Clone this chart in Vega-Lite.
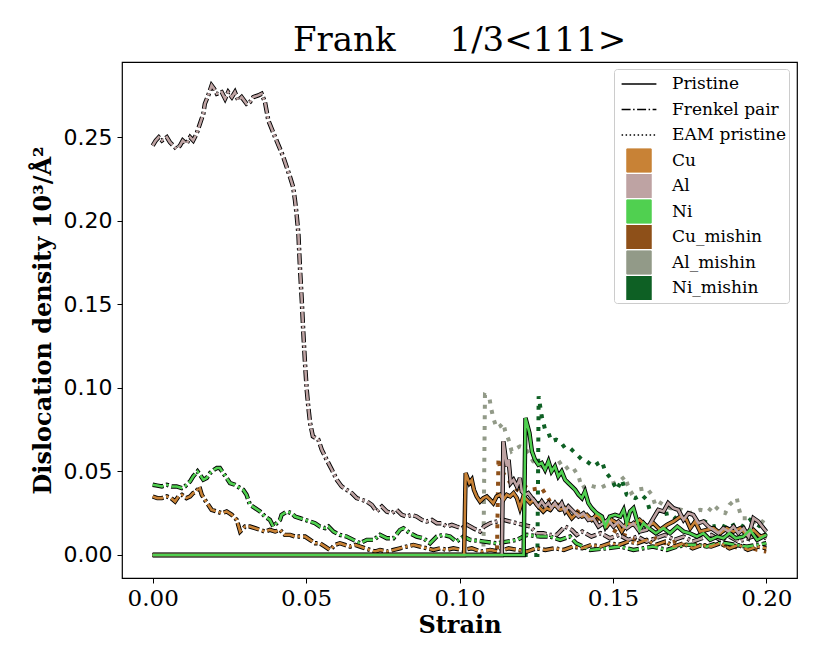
{
  "$schema": "https://vega.github.io/schema/vega-lite/v6.json",
  "width": 675,
  "height": 516,
  "autosize": {"type": "none"},
  "padding": {"left": 122, "top": 62, "right": 33, "bottom": 86},
  "background": "white",
  "title": {"text": "Frank\u00a0\u00a0\u00a0\u00a0\u00a01/3<111>", "font": "DejaVu Serif", "fontSize": 34, "fontWeight": "normal", "color": "black", "offset": 10, "baseline": "alphabetic", "anchor": "middle", "dy": 33},
  "config": {
    "view": {"stroke": "black", "strokeWidth": 1.2},
    "axis": {"grid": false, "domain": false, "tickColor": "black", "tickSize": 5, "tickWidth": 1, "labelColor": "black", "titleColor": "black", "titleFont": "DejaVu Serif", "titleFontWeight": "bold", "labelFlush": false}
  },
  "data": {"values": [
    {"x":0.000,"y":0.245,"m":"Al","t":"F"},{"x":0.001,"y":0.248,"m":"Al","t":"F"},{"x":0.002,"y":0.250,"m":"Al","t":"F"},{"x":0.003,"y":0.248,"m":"Al","t":"F"},{"x":0.0046,"y":0.250,"m":"Al","t":"F"},{"x":0.0056,"y":0.247,"m":"Al","t":"F"},{"x":0.0067,"y":0.245,"m":"Al","t":"F"},{"x":0.0078,"y":0.243,"m":"Al","t":"F"},{"x":0.0089,"y":0.245,"m":"Al","t":"F"},{"x":0.0098,"y":0.248,"m":"Al","t":"F"},{"x":0.011,"y":0.246,"m":"Al","t":"F"},{"x":0.0122,"y":0.250,"m":"Al","t":"F"},{"x":0.0132,"y":0.248,"m":"Al","t":"F"},{"x":0.0143,"y":0.252,"m":"Al","t":"F"},{"x":0.0154,"y":0.258,"m":"Al","t":"F"},{"x":0.0165,"y":0.264,"m":"Al","t":"F"},{"x":0.017,"y":0.270,"m":"Al","t":"F"},{"x":0.0181,"y":0.275,"m":"Al","t":"F"},{"x":0.0192,"y":0.281,"m":"Al","t":"F"},{"x":0.0200,"y":0.279,"m":"Al","t":"F"},{"x":0.0209,"y":0.276,"m":"Al","t":"F"},{"x":0.0225,"y":0.277,"m":"Al","t":"F"},{"x":0.0236,"y":0.273,"m":"Al","t":"F"},{"x":0.0246,"y":0.277,"m":"Al","t":"F"},{"x":0.0258,"y":0.274,"m":"Al","t":"F"},{"x":0.0268,"y":0.277,"m":"Al","t":"F"},{"x":0.0279,"y":0.272,"m":"Al","t":"F"},{"x":0.029,"y":0.274,"m":"Al","t":"F"},{"x":0.0306,"y":0.270,"m":"Al","t":"F"},{"x":0.0317,"y":0.271,"m":"Al","t":"F"},{"x":0.0328,"y":0.274,"m":"Al","t":"F"},{"x":0.0344,"y":0.275,"m":"Al","t":"F"},{"x":0.0355,"y":0.276,"m":"Al","t":"F"},{"x":0.0366,"y":0.271,"m":"Al","t":"F"},{"x":0.0377,"y":0.260,"m":"Al","t":"F"},{"x":0.0388,"y":0.255,"m":"Al","t":"F"},{"x":0.0399,"y":0.250,"m":"Al","t":"F"},{"x":0.0415,"y":0.243,"m":"Al","t":"F"},{"x":0.0426,"y":0.238,"m":"Al","t":"F"},{"x":0.0437,"y":0.232,"m":"Al","t":"F"},{"x":0.0448,"y":0.226,"m":"Al","t":"F"},{"x":0.0458,"y":0.220,"m":"Al","t":"F"},{"x":0.0464,"y":0.212,"m":"Al","t":"F"},{"x":0.0469,"y":0.204,"m":"Al","t":"F"},{"x":0.0475,"y":0.192,"m":"Al","t":"F"},{"x":0.048,"y":0.172,"m":"Al","t":"F"},{"x":0.0486,"y":0.152,"m":"Al","t":"F"},{"x":0.0491,"y":0.133,"m":"Al","t":"F"},{"x":0.0497,"y":0.113,"m":"Al","t":"F"},{"x":0.0502,"y":0.099,"m":"Al","t":"F"},{"x":0.0507,"y":0.089,"m":"Al","t":"F"},{"x":0.0513,"y":0.079,"m":"Al","t":"F"},{"x":0.0522,"y":0.071,"m":"Al","t":"F"},{"x":0.054,"y":0.069,"m":"Al","t":"F"},{"x":0.0551,"y":0.063,"m":"Al","t":"F"},{"x":0.0567,"y":0.057,"m":"Al","t":"F"},{"x":0.0584,"y":0.051,"m":"Al","t":"F"},{"x":0.060,"y":0.045,"m":"Al","t":"F"},{"x":0.0616,"y":0.041,"m":"Al","t":"F"},{"x":0.0632,"y":0.039,"m":"Al","t":"F"},{"x":0.0649,"y":0.037,"m":"Al","t":"F"},{"x":0.0665,"y":0.034,"m":"Al","t":"F"},{"x":0.0681,"y":0.033,"m":"Al","t":"F"},{"x":0.0698,"y":0.032,"m":"Al","t":"F"},{"x":0.0714,"y":0.030,"m":"Al","t":"F"},{"x":0.073,"y":0.026,"m":"Al","t":"F"},{"x":0.0747,"y":0.029,"m":"Al","t":"F"},{"x":0.0763,"y":0.026,"m":"Al","t":"F"},{"x":0.0779,"y":0.025,"m":"Al","t":"F"},{"x":0.0795,"y":0.027,"m":"Al","t":"F"},{"x":0.0812,"y":0.024,"m":"Al","t":"F"},{"x":0.0828,"y":0.023,"m":"Al","t":"F"},{"x":0.0844,"y":0.024,"m":"Al","t":"F"},{"x":0.086,"y":0.023,"m":"Al","t":"F"},{"x":0.0877,"y":0.021,"m":"Al","t":"F"},{"x":0.0893,"y":0.020,"m":"Al","t":"F"},{"x":0.091,"y":0.021,"m":"Al","t":"F"},{"x":0.0926,"y":0.019,"m":"Al","t":"F"},{"x":0.0942,"y":0.019,"m":"Al","t":"F"},{"x":0.0958,"y":0.017,"m":"Al","t":"F"},{"x":0.0975,"y":0.018,"m":"Al","t":"F"},{"x":0.099,"y":0.017,"m":"Al","t":"F"},{"x":0.1007,"y":0.016,"m":"Al","t":"F"},{"x":0.1025,"y":0.018,"m":"Al","t":"F"},{"x":0.1045,"y":0.016,"m":"Al","t":"F"},{"x":0.1067,"y":0.014,"m":"Al","t":"F"},{"x":0.108,"y":0.017,"m":"Al","t":"F"},{"x":0.110,"y":0.019,"m":"Al","t":"F"},{"x":0.1121,"y":0.020,"m":"Al","t":"F"},{"x":0.1143,"y":0.021,"m":"Al","t":"F"},{"x":0.1165,"y":0.020,"m":"Al","t":"F"},{"x":0.1187,"y":0.019,"m":"Al","t":"F"},{"x":0.1208,"y":0.018,"m":"Al","t":"F"},{"x":0.123,"y":0.017,"m":"Al","t":"F"},{"x":0.1252,"y":0.013,"m":"Al","t":"F"},{"x":0.1273,"y":0.013,"m":"Al","t":"F"},{"x":0.1295,"y":0.012,"m":"Al","t":"F"},{"x":0.1317,"y":0.012,"m":"Al","t":"F"},{"x":0.1344,"y":0.017,"m":"Al","t":"F"},{"x":0.1366,"y":0.015,"m":"Al","t":"F"},{"x":0.1382,"y":0.012,"m":"Al","t":"F"},{"x":0.140,"y":0.014,"m":"Al","t":"F"},{"x":0.143,"y":0.011,"m":"Al","t":"F"},{"x":0.146,"y":0.013,"m":"Al","t":"F"},{"x":0.149,"y":0.010,"m":"Al","t":"F"},{"x":0.152,"y":0.012,"m":"Al","t":"F"},{"x":0.155,"y":0.009,"m":"Al","t":"F"},{"x":0.158,"y":0.011,"m":"Al","t":"F"},{"x":0.161,"y":0.008,"m":"Al","t":"F"},{"x":0.164,"y":0.010,"m":"Al","t":"F"},{"x":0.167,"y":0.012,"m":"Al","t":"F"},{"x":0.170,"y":0.009,"m":"Al","t":"F"},{"x":0.173,"y":0.011,"m":"Al","t":"F"},{"x":0.176,"y":0.008,"m":"Al","t":"F"},{"x":0.179,"y":0.010,"m":"Al","t":"F"},{"x":0.182,"y":0.012,"m":"Al","t":"F"},{"x":0.185,"y":0.009,"m":"Al","t":"F"},{"x":0.188,"y":0.011,"m":"Al","t":"F"},{"x":0.191,"y":0.008,"m":"Al","t":"F"},{"x":0.194,"y":0.010,"m":"Al","t":"F"},{"x":0.197,"y":0.012,"m":"Al","t":"F"},{"x":0.200,"y":0.010,"m":"Al","t":"F"},

    {"x":0.000,"y":0.042,"m":"Ni","t":"F"},{"x":0.0015,"y":0.0415,"m":"Ni","t":"F"},{"x":0.003,"y":0.041,"m":"Ni","t":"F"},{"x":0.0046,"y":0.042,"m":"Ni","t":"F"},{"x":0.0062,"y":0.041,"m":"Ni","t":"F"},{"x":0.0078,"y":0.041,"m":"Ni","t":"F"},{"x":0.0095,"y":0.040,"m":"Ni","t":"F"},{"x":0.0105,"y":0.041,"m":"Ni","t":"F"},{"x":0.0122,"y":0.044,"m":"Ni","t":"F"},{"x":0.0132,"y":0.047,"m":"Ni","t":"F"},{"x":0.0146,"y":0.050,"m":"Ni","t":"F"},{"x":0.0154,"y":0.048,"m":"Ni","t":"F"},{"x":0.0165,"y":0.045,"m":"Ni","t":"F"},{"x":0.0176,"y":0.046,"m":"Ni","t":"F"},{"x":0.0187,"y":0.049,"m":"Ni","t":"F"},{"x":0.020,"y":0.051,"m":"Ni","t":"F"},{"x":0.0209,"y":0.052,"m":"Ni","t":"F"},{"x":0.0219,"y":0.052,"m":"Ni","t":"F"},{"x":0.023,"y":0.049,"m":"Ni","t":"F"},{"x":0.0241,"y":0.046,"m":"Ni","t":"F"},{"x":0.0252,"y":0.043,"m":"Ni","t":"F"},{"x":0.0268,"y":0.042,"m":"Ni","t":"F"},{"x":0.0285,"y":0.040,"m":"Ni","t":"F"},{"x":0.0295,"y":0.039,"m":"Ni","t":"F"},{"x":0.0306,"y":0.036,"m":"Ni","t":"F"},{"x":0.0317,"y":0.030,"m":"Ni","t":"F"},{"x":0.0334,"y":0.028,"m":"Ni","t":"F"},{"x":0.035,"y":0.026,"m":"Ni","t":"F"},{"x":0.0366,"y":0.023,"m":"Ni","t":"F"},{"x":0.0382,"y":0.021,"m":"Ni","t":"F"},{"x":0.0393,"y":0.017,"m":"Ni","t":"F"},{"x":0.0404,"y":0.019,"m":"Ni","t":"F"},{"x":0.0415,"y":0.021,"m":"Ni","t":"F"},{"x":0.042,"y":0.024,"m":"Ni","t":"F"},{"x":0.0437,"y":0.026,"m":"Ni","t":"F"},{"x":0.0453,"y":0.025,"m":"Ni","t":"F"},{"x":0.0464,"y":0.023,"m":"Ni","t":"F"},{"x":0.048,"y":0.022,"m":"Ni","t":"F"},{"x":0.0497,"y":0.021,"m":"Ni","t":"F"},{"x":0.0513,"y":0.020,"m":"Ni","t":"F"},{"x":0.0529,"y":0.019,"m":"Ni","t":"F"},{"x":0.0545,"y":0.017,"m":"Ni","t":"F"},{"x":0.0562,"y":0.016,"m":"Ni","t":"F"},{"x":0.0573,"y":0.017,"m":"Ni","t":"F"},{"x":0.0589,"y":0.014,"m":"Ni","t":"F"},{"x":0.061,"y":0.012,"m":"Ni","t":"F"},{"x":0.0632,"y":0.011,"m":"Ni","t":"F"},{"x":0.0654,"y":0.009,"m":"Ni","t":"F"},{"x":0.0676,"y":0.007,"m":"Ni","t":"F"},{"x":0.0698,"y":0.009,"m":"Ni","t":"F"},{"x":0.072,"y":0.009,"m":"Ni","t":"F"},{"x":0.0741,"y":0.012,"m":"Ni","t":"F"},{"x":0.0763,"y":0.010,"m":"Ni","t":"F"},{"x":0.0785,"y":0.010,"m":"Ni","t":"F"},{"x":0.0806,"y":0.015,"m":"Ni","t":"F"},{"x":0.0817,"y":0.016,"m":"Ni","t":"F"},{"x":0.0839,"y":0.013,"m":"Ni","t":"F"},{"x":0.086,"y":0.011,"m":"Ni","t":"F"},{"x":0.0882,"y":0.010,"m":"Ni","t":"F"},{"x":0.0904,"y":0.007,"m":"Ni","t":"F"},{"x":0.0926,"y":0.011,"m":"Ni","t":"F"},{"x":0.0947,"y":0.012,"m":"Ni","t":"F"},{"x":0.0969,"y":0.011,"m":"Ni","t":"F"},{"x":0.099,"y":0.008,"m":"Ni","t":"F"},{"x":0.1013,"y":0.011,"m":"Ni","t":"F"},{"x":0.1035,"y":0.009,"m":"Ni","t":"F"},{"x":0.108,"y":0.008,"m":"Ni","t":"F"},{"x":0.112,"y":0.007,"m":"Ni","t":"F"},{"x":0.1155,"y":0.008,"m":"Ni","t":"F"},{"x":0.1187,"y":0.009,"m":"Ni","t":"F"},{"x":0.122,"y":0.012,"m":"Ni","t":"F"},{"x":0.1263,"y":0.011,"m":"Ni","t":"F"},{"x":0.1295,"y":0.011,"m":"Ni","t":"F"},{"x":0.1328,"y":0.009,"m":"Ni","t":"F"},{"x":0.136,"y":0.011,"m":"Ni","t":"F"},{"x":0.138,"y":0.007,"m":"Ni","t":"F"},{"x":0.1426,"y":0.003,"m":"Ni","t":"F"},{"x":0.148,"y":0.004,"m":"Ni","t":"F"},{"x":0.1524,"y":0.005,"m":"Ni","t":"F"},{"x":0.1567,"y":0.003,"m":"Ni","t":"F"},{"x":0.160,"y":0.004,"m":"Ni","t":"F"},{"x":0.163,"y":0.005,"m":"Ni","t":"F"},{"x":0.1676,"y":0.003,"m":"Ni","t":"F"},{"x":0.171,"y":0.005,"m":"Ni","t":"F"},{"x":0.174,"y":0.006,"m":"Ni","t":"F"},{"x":0.1774,"y":0.006,"m":"Ni","t":"F"},{"x":0.1806,"y":0.005,"m":"Ni","t":"F"},{"x":0.1839,"y":0.007,"m":"Ni","t":"F"},{"x":0.187,"y":0.007,"m":"Ni","t":"F"},{"x":0.190,"y":0.006,"m":"Ni","t":"F"},{"x":0.1936,"y":0.005,"m":"Ni","t":"F"},{"x":0.197,"y":0.006,"m":"Ni","t":"F"},{"x":0.200,"y":0.007,"m":"Ni","t":"F"},

    {"x":0.000,"y":0.035,"m":"Cu","t":"F"},{"x":0.0015,"y":0.034,"m":"Cu","t":"F"},{"x":0.003,"y":0.034,"m":"Cu","t":"F"},{"x":0.0046,"y":0.035,"m":"Cu","t":"F"},{"x":0.006,"y":0.034,"m":"Cu","t":"F"},{"x":0.0073,"y":0.032,"m":"Cu","t":"F"},{"x":0.0084,"y":0.035,"m":"Cu","t":"F"},{"x":0.0095,"y":0.036,"m":"Cu","t":"F"},{"x":0.011,"y":0.034,"m":"Cu","t":"F"},{"x":0.0122,"y":0.035,"m":"Cu","t":"F"},{"x":0.0132,"y":0.037,"m":"Cu","t":"F"},{"x":0.0143,"y":0.038,"m":"Cu","t":"F"},{"x":0.0152,"y":0.041,"m":"Cu","t":"F"},{"x":0.016,"y":0.036,"m":"Cu","t":"F"},{"x":0.017,"y":0.033,"m":"Cu","t":"F"},{"x":0.0181,"y":0.030,"m":"Cu","t":"F"},{"x":0.0192,"y":0.027,"m":"Cu","t":"F"},{"x":0.0209,"y":0.026,"m":"Cu","t":"F"},{"x":0.0225,"y":0.025,"m":"Cu","t":"F"},{"x":0.0241,"y":0.026,"m":"Cu","t":"F"},{"x":0.0258,"y":0.024,"m":"Cu","t":"F"},{"x":0.0274,"y":0.021,"m":"Cu","t":"F"},{"x":0.0285,"y":0.014,"m":"Cu","t":"F"},{"x":0.0301,"y":0.017,"m":"Cu","t":"F"},{"x":0.0317,"y":0.017,"m":"Cu","t":"F"},{"x":0.0334,"y":0.016,"m":"Cu","t":"F"},{"x":0.035,"y":0.015,"m":"Cu","t":"F"},{"x":0.0366,"y":0.014,"m":"Cu","t":"F"},{"x":0.0382,"y":0.015,"m":"Cu","t":"F"},{"x":0.0399,"y":0.014,"m":"Cu","t":"F"},{"x":0.0415,"y":0.015,"m":"Cu","t":"F"},{"x":0.0431,"y":0.012,"m":"Cu","t":"F"},{"x":0.0448,"y":0.012,"m":"Cu","t":"F"},{"x":0.0464,"y":0.011,"m":"Cu","t":"F"},{"x":0.048,"y":0.011,"m":"Cu","t":"F"},{"x":0.0497,"y":0.011,"m":"Cu","t":"F"},{"x":0.0513,"y":0.009,"m":"Cu","t":"F"},{"x":0.0529,"y":0.007,"m":"Cu","t":"F"},{"x":0.0545,"y":0.007,"m":"Cu","t":"F"},{"x":0.0562,"y":0.005,"m":"Cu","t":"F"},{"x":0.0578,"y":0.003,"m":"Cu","t":"F"},{"x":0.0594,"y":0.006,"m":"Cu","t":"F"},{"x":0.061,"y":0.007,"m":"Cu","t":"F"},{"x":0.0627,"y":0.006,"m":"Cu","t":"F"},{"x":0.0643,"y":0.005,"m":"Cu","t":"F"},{"x":0.066,"y":0.006,"m":"Cu","t":"F"},{"x":0.0676,"y":0.005,"m":"Cu","t":"F"},{"x":0.0692,"y":0.004,"m":"Cu","t":"F"},{"x":0.0708,"y":0.003,"m":"Cu","t":"F"},{"x":0.0725,"y":0.002,"m":"Cu","t":"F"},{"x":0.0741,"y":0.003,"m":"Cu","t":"F"},{"x":0.0763,"y":0.002,"m":"Cu","t":"F"},{"x":0.0785,"y":0.003,"m":"Cu","t":"F"},{"x":0.0806,"y":0.004,"m":"Cu","t":"F"},{"x":0.0828,"y":0.005,"m":"Cu","t":"F"},{"x":0.085,"y":0.006,"m":"Cu","t":"F"},{"x":0.0871,"y":0.005,"m":"Cu","t":"F"},{"x":0.0893,"y":0.004,"m":"Cu","t":"F"},{"x":0.0915,"y":0.003,"m":"Cu","t":"F"},{"x":0.0937,"y":0.004,"m":"Cu","t":"F"},{"x":0.0958,"y":0.003,"m":"Cu","t":"F"},{"x":0.098,"y":0.004,"m":"Cu","t":"F"},{"x":0.101,"y":0.003,"m":"Cu","t":"F"},{"x":0.104,"y":0.004,"m":"Cu","t":"F"},{"x":0.107,"y":0.002,"m":"Cu","t":"F"},{"x":0.110,"y":0.003,"m":"Cu","t":"F"},{"x":0.113,"y":0.002,"m":"Cu","t":"F"},{"x":0.116,"y":0.004,"m":"Cu","t":"F"},{"x":0.119,"y":0.003,"m":"Cu","t":"F"},{"x":0.122,"y":0.002,"m":"Cu","t":"F"},{"x":0.125,"y":0.004,"m":"Cu","t":"F"},{"x":0.128,"y":0.003,"m":"Cu","t":"F"},{"x":0.131,"y":0.004,"m":"Cu","t":"F"},{"x":0.134,"y":0.003,"m":"Cu","t":"F"},{"x":0.137,"y":0.005,"m":"Cu","t":"F"},{"x":0.140,"y":0.004,"m":"Cu","t":"F"},{"x":0.143,"y":0.006,"m":"Cu","t":"F"},{"x":0.146,"y":0.005,"m":"Cu","t":"F"},{"x":0.149,"y":0.007,"m":"Cu","t":"F"},{"x":0.152,"y":0.006,"m":"Cu","t":"F"},{"x":0.155,"y":0.008,"m":"Cu","t":"F"},{"x":0.158,"y":0.007,"m":"Cu","t":"F"},{"x":0.161,"y":0.009,"m":"Cu","t":"F"},{"x":0.164,"y":0.006,"m":"Cu","t":"F"},{"x":0.167,"y":0.008,"m":"Cu","t":"F"},{"x":0.170,"y":0.005,"m":"Cu","t":"F"},{"x":0.173,"y":0.007,"m":"Cu","t":"F"},{"x":0.176,"y":0.004,"m":"Cu","t":"F"},{"x":0.179,"y":0.006,"m":"Cu","t":"F"},{"x":0.182,"y":0.005,"m":"Cu","t":"F"},{"x":0.185,"y":0.007,"m":"Cu","t":"F"},{"x":0.188,"y":0.004,"m":"Cu","t":"F"},{"x":0.191,"y":0.006,"m":"Cu","t":"F"},{"x":0.194,"y":0.003,"m":"Cu","t":"F"},{"x":0.197,"y":0.005,"m":"Cu","t":"F"},{"x":0.200,"y":0.004,"m":"Cu","t":"F"},

    {"x":0.000,"y":0,"m":"Cu","t":"P"},{"x":0.1015,"y":0,"m":"Cu","t":"P"},{"x":0.1020,"y":0.049,"m":"Cu","t":"P"},{"x":0.1032,"y":0.043,"m":"Cu","t":"P"},{"x":0.104,"y":0.045,"m":"Cu","t":"P"},{"x":0.1047,"y":0.039,"m":"Cu","t":"P"},{"x":0.1056,"y":0.035,"m":"Cu","t":"P"},{"x":0.1067,"y":0.032,"m":"Cu","t":"P"},{"x":0.1078,"y":0.034,"m":"Cu","t":"P"},{"x":0.1089,"y":0.035,"m":"Cu","t":"P"},{"x":0.110,"y":0.033,"m":"Cu","t":"P"},{"x":0.111,"y":0.031,"m":"Cu","t":"P"},{"x":0.1121,"y":0.035,"m":"Cu","t":"P"},{"x":0.1132,"y":0.036,"m":"Cu","t":"P"},{"x":0.1143,"y":0.033,"m":"Cu","t":"P"},{"x":0.1154,"y":0.036,"m":"Cu","t":"P"},{"x":0.1165,"y":0.035,"m":"Cu","t":"P"},{"x":0.1176,"y":0.037,"m":"Cu","t":"P"},{"x":0.1187,"y":0.034,"m":"Cu","t":"P"},{"x":0.1197,"y":0.028,"m":"Cu","t":"P"},{"x":0.1208,"y":0.035,"m":"Cu","t":"P"},{"x":0.122,"y":0.033,"m":"Cu","t":"P"},{"x":0.123,"y":0.031,"m":"Cu","t":"P"},{"x":0.1241,"y":0.033,"m":"Cu","t":"P"},{"x":0.1252,"y":0.030,"m":"Cu","t":"P"},{"x":0.1263,"y":0.028,"m":"Cu","t":"P"},{"x":0.1273,"y":0.026,"m":"Cu","t":"P"},{"x":0.1284,"y":0.028,"m":"Cu","t":"P"},{"x":0.1295,"y":0.027,"m":"Cu","t":"P"},{"x":0.1306,"y":0.030,"m":"Cu","t":"P"},{"x":0.1317,"y":0.029,"m":"Cu","t":"P"},{"x":0.1328,"y":0.027,"m":"Cu","t":"P"},{"x":0.1344,"y":0.028,"m":"Cu","t":"P"},{"x":0.1355,"y":0.025,"m":"Cu","t":"P"},{"x":0.1366,"y":0.022,"m":"Cu","t":"P"},{"x":0.1382,"y":0.025,"m":"Cu","t":"P"},{"x":0.1399,"y":0.023,"m":"Cu","t":"P"},{"x":0.1415,"y":0.024,"m":"Cu","t":"P"},{"x":0.1431,"y":0.021,"m":"Cu","t":"P"},{"x":0.1447,"y":0.024,"m":"Cu","t":"P"},{"x":0.1464,"y":0.021,"m":"Cu","t":"P"},{"x":0.148,"y":0.017,"m":"Cu","t":"P"},{"x":0.1496,"y":0.021,"m":"Cu","t":"P"},{"x":0.1513,"y":0.019,"m":"Cu","t":"P"},{"x":0.1529,"y":0.014,"m":"Cu","t":"P"},{"x":0.1545,"y":0.019,"m":"Cu","t":"P"},{"x":0.1567,"y":0.018,"m":"Cu","t":"P"},{"x":0.1587,"y":0.021,"m":"Cu","t":"P"},{"x":0.161,"y":0.017,"m":"Cu","t":"P"},{"x":0.1632,"y":0.019,"m":"Cu","t":"P"},{"x":0.1654,"y":0.015,"m":"Cu","t":"P"},{"x":0.1676,"y":0.018,"m":"Cu","t":"P"},{"x":0.1697,"y":0.020,"m":"Cu","t":"P"},{"x":0.172,"y":0.023,"m":"Cu","t":"P"},{"x":0.174,"y":0.021,"m":"Cu","t":"P"},{"x":0.1752,"y":0.016,"m":"Cu","t":"P"},{"x":0.1768,"y":0.020,"m":"Cu","t":"P"},{"x":0.1784,"y":0.014,"m":"Cu","t":"P"},{"x":0.1806,"y":0.015,"m":"Cu","t":"P"},{"x":0.1828,"y":0.016,"m":"Cu","t":"P"},{"x":0.185,"y":0.013,"m":"Cu","t":"P"},{"x":0.1871,"y":0.016,"m":"Cu","t":"P"},{"x":0.1893,"y":0.014,"m":"Cu","t":"P"},{"x":0.1915,"y":0.016,"m":"Cu","t":"P"},{"x":0.1936,"y":0.012,"m":"Cu","t":"P"},{"x":0.1958,"y":0.015,"m":"Cu","t":"P"},{"x":0.198,"y":0.011,"m":"Cu","t":"P"},{"x":0.200,"y":0.012,"m":"Cu","t":"P"},

    {"x":0.000,"y":0,"m":"Al","t":"P"},{"x":0.1138,"y":0,"m":"Al","t":"P"},{"x":0.1143,"y":0.068,"m":"Al","t":"P"},{"x":0.1154,"y":0.053,"m":"Al","t":"P"},{"x":0.116,"y":0.057,"m":"Al","t":"P"},{"x":0.1167,"y":0.043,"m":"Al","t":"P"},{"x":0.1176,"y":0.045,"m":"Al","t":"P"},{"x":0.1187,"y":0.041,"m":"Al","t":"P"},{"x":0.1197,"y":0.046,"m":"Al","t":"P"},{"x":0.1203,"y":0.038,"m":"Al","t":"P"},{"x":0.1214,"y":0.036,"m":"Al","t":"P"},{"x":0.1224,"y":0.037,"m":"Al","t":"P"},{"x":0.1236,"y":0.034,"m":"Al","t":"P"},{"x":0.1246,"y":0.032,"m":"Al","t":"P"},{"x":0.1257,"y":0.029,"m":"Al","t":"P"},{"x":0.1268,"y":0.032,"m":"Al","t":"P"},{"x":0.1279,"y":0.029,"m":"Al","t":"P"},{"x":0.129,"y":0.031,"m":"Al","t":"P"},{"x":0.130,"y":0.028,"m":"Al","t":"P"},{"x":0.1311,"y":0.031,"m":"Al","t":"P"},{"x":0.1322,"y":0.028,"m":"Al","t":"P"},{"x":0.1333,"y":0.031,"m":"Al","t":"P"},{"x":0.1344,"y":0.026,"m":"Al","t":"P"},{"x":0.1355,"y":0.029,"m":"Al","t":"P"},{"x":0.1371,"y":0.026,"m":"Al","t":"P"},{"x":0.1388,"y":0.023,"m":"Al","t":"P"},{"x":0.1404,"y":0.025,"m":"Al","t":"P"},{"x":0.142,"y":0.021,"m":"Al","t":"P"},{"x":0.1436,"y":0.022,"m":"Al","t":"P"},{"x":0.1453,"y":0.017,"m":"Al","t":"P"},{"x":0.1469,"y":0.019,"m":"Al","t":"P"},{"x":0.1485,"y":0.021,"m":"Al","t":"P"},{"x":0.1502,"y":0.017,"m":"Al","t":"P"},{"x":0.1518,"y":0.020,"m":"Al","t":"P"},{"x":0.1534,"y":0.017,"m":"Al","t":"P"},{"x":0.1545,"y":0.016,"m":"Al","t":"P"},{"x":0.1567,"y":0.019,"m":"Al","t":"P"},{"x":0.1587,"y":0.014,"m":"Al","t":"P"},{"x":0.161,"y":0.015,"m":"Al","t":"P"},{"x":0.1632,"y":0.022,"m":"Al","t":"P"},{"x":0.1648,"y":0.027,"m":"Al","t":"P"},{"x":0.1665,"y":0.026,"m":"Al","t":"P"},{"x":0.168,"y":0.031,"m":"Al","t":"P"},{"x":0.1697,"y":0.028,"m":"Al","t":"P"},{"x":0.1713,"y":0.027,"m":"Al","t":"P"},{"x":0.173,"y":0.021,"m":"Al","t":"P"},{"x":0.1746,"y":0.025,"m":"Al","t":"P"},{"x":0.1762,"y":0.024,"m":"Al","t":"P"},{"x":0.1779,"y":0.019,"m":"Al","t":"P"},{"x":0.1795,"y":0.020,"m":"Al","t":"P"},{"x":0.1811,"y":0.017,"m":"Al","t":"P"},{"x":0.1828,"y":0.015,"m":"Al","t":"P"},{"x":0.1844,"y":0.013,"m":"Al","t":"P"},{"x":0.186,"y":0.016,"m":"Al","t":"P"},{"x":0.1877,"y":0.014,"m":"Al","t":"P"},{"x":0.1893,"y":0.017,"m":"Al","t":"P"},{"x":0.1909,"y":0.013,"m":"Al","t":"P"},{"x":0.1926,"y":0.016,"m":"Al","t":"P"},{"x":0.1942,"y":0.011,"m":"Al","t":"P"},{"x":0.1958,"y":0.022,"m":"Al","t":"P"},{"x":0.1974,"y":0.020,"m":"Al","t":"P"},{"x":0.1991,"y":0.016,"m":"Al","t":"P"},{"x":0.200,"y":0.014,"m":"Al","t":"P"},

    {"x":0.000,"y":0,"m":"Ni","t":"P"},{"x":0.1209,"y":0,"m":"Ni","t":"P"},{"x":0.1215,"y":0.082,"m":"Ni","t":"P"},{"x":0.1228,"y":0.073,"m":"Ni","t":"P"},{"x":0.1236,"y":0.062,"m":"Ni","t":"P"},{"x":0.1246,"y":0.057,"m":"Ni","t":"P"},{"x":0.1257,"y":0.054,"m":"Ni","t":"P"},{"x":0.1268,"y":0.055,"m":"Ni","t":"P"},{"x":0.1279,"y":0.051,"m":"Ni","t":"P"},{"x":0.129,"y":0.056,"m":"Ni","t":"P"},{"x":0.130,"y":0.050,"m":"Ni","t":"P"},{"x":0.1311,"y":0.053,"m":"Ni","t":"P"},{"x":0.1322,"y":0.047,"m":"Ni","t":"P"},{"x":0.1333,"y":0.050,"m":"Ni","t":"P"},{"x":0.1344,"y":0.045,"m":"Ni","t":"P"},{"x":0.1355,"y":0.043,"m":"Ni","t":"P"},{"x":0.1366,"y":0.041,"m":"Ni","t":"P"},{"x":0.1377,"y":0.039,"m":"Ni","t":"P"},{"x":0.1388,"y":0.036,"m":"Ni","t":"P"},{"x":0.1399,"y":0.034,"m":"Ni","t":"P"},{"x":0.1409,"y":0.038,"m":"Ni","t":"P"},{"x":0.142,"y":0.031,"m":"Ni","t":"P"},{"x":0.1431,"y":0.028,"m":"Ni","t":"P"},{"x":0.1447,"y":0.025,"m":"Ni","t":"P"},{"x":0.1464,"y":0.023,"m":"Ni","t":"P"},{"x":0.1475,"y":0.017,"m":"Ni","t":"P"},{"x":0.149,"y":0.023,"m":"Ni","t":"P"},{"x":0.1507,"y":0.024,"m":"Ni","t":"P"},{"x":0.1524,"y":0.023,"m":"Ni","t":"P"},{"x":0.1535,"y":0.027,"m":"Ni","t":"P"},{"x":0.1545,"y":0.019,"m":"Ni","t":"P"},{"x":0.1556,"y":0.026,"m":"Ni","t":"P"},{"x":0.1567,"y":0.028,"m":"Ni","t":"P"},{"x":0.1578,"y":0.021,"m":"Ni","t":"P"},{"x":0.1587,"y":0.015,"m":"Ni","t":"P"},{"x":0.160,"y":0.019,"m":"Ni","t":"P"},{"x":0.161,"y":0.017,"m":"Ni","t":"P"},{"x":0.164,"y":0.013,"m":"Ni","t":"P"},{"x":0.1665,"y":0.016,"m":"Ni","t":"P"},{"x":0.1686,"y":0.013,"m":"Ni","t":"P"},{"x":0.171,"y":0.017,"m":"Ni","t":"P"},{"x":0.173,"y":0.014,"m":"Ni","t":"P"},{"x":0.175,"y":0.013,"m":"Ni","t":"P"},{"x":0.1774,"y":0.011,"m":"Ni","t":"P"},{"x":0.1795,"y":0.013,"m":"Ni","t":"P"},{"x":0.1817,"y":0.009,"m":"Ni","t":"P"},{"x":0.184,"y":0.011,"m":"Ni","t":"P"},{"x":0.186,"y":0.010,"m":"Ni","t":"P"},{"x":0.188,"y":0.013,"m":"Ni","t":"P"},{"x":0.190,"y":0.010,"m":"Ni","t":"P"},{"x":0.1925,"y":0.011,"m":"Ni","t":"P"},{"x":0.1947,"y":0.015,"m":"Ni","t":"P"},{"x":0.197,"y":0.009,"m":"Ni","t":"P"},{"x":0.199,"y":0.011,"m":"Ni","t":"P"},{"x":0.200,"y":0.012,"m":"Ni","t":"P"},

    {"x":0.000,"y":0,"m":"Al_mishin","t":"E"},{"x":0.1078,"y":0,"m":"Al_mishin","t":"E"},{"x":0.1083,"y":0.0957,"m":"Al_mishin","t":"E"},{"x":0.1097,"y":0.0947,"m":"Al_mishin","t":"E"},{"x":0.1102,"y":0.0887,"m":"Al_mishin","t":"E"},{"x":0.111,"y":0.082,"m":"Al_mishin","t":"E"},{"x":0.1121,"y":0.076,"m":"Al_mishin","t":"E"},{"x":0.1132,"y":0.077,"m":"Al_mishin","t":"E"},{"x":0.1143,"y":0.079,"m":"Al_mishin","t":"E"},{"x":0.1149,"y":0.074,"m":"Al_mishin","t":"E"},{"x":0.116,"y":0.069,"m":"Al_mishin","t":"E"},{"x":0.117,"y":0.062,"m":"Al_mishin","t":"E"},{"x":0.1187,"y":0.064,"m":"Al_mishin","t":"E"},{"x":0.1197,"y":0.065,"m":"Al_mishin","t":"E"},{"x":0.1214,"y":0.064,"m":"Al_mishin","t":"E"},{"x":0.124,"y":0.056,"m":"Al_mishin","t":"E"},{"x":0.1268,"y":0.053,"m":"Al_mishin","t":"E"},{"x":0.1295,"y":0.051,"m":"Al_mishin","t":"E"},{"x":0.1317,"y":0.054,"m":"Al_mishin","t":"E"},{"x":0.1333,"y":0.056,"m":"Al_mishin","t":"E"},{"x":0.1355,"y":0.051,"m":"Al_mishin","t":"E"},{"x":0.1371,"y":0.052,"m":"Al_mishin","t":"E"},{"x":0.1388,"y":0.047,"m":"Al_mishin","t":"E"},{"x":0.1399,"y":0.040,"m":"Al_mishin","t":"E"},{"x":0.142,"y":0.042,"m":"Al_mishin","t":"E"},{"x":0.1436,"y":0.041,"m":"Al_mishin","t":"E"},{"x":0.1458,"y":0.040,"m":"Al_mishin","t":"E"},{"x":0.148,"y":0.042,"m":"Al_mishin","t":"E"},{"x":0.1502,"y":0.043,"m":"Al_mishin","t":"E"},{"x":0.152,"y":0.044,"m":"Al_mishin","t":"E"},{"x":0.154,"y":0.047,"m":"Al_mishin","t":"E"},{"x":0.1548,"y":0.042,"m":"Al_mishin","t":"E"},{"x":0.156,"y":0.037,"m":"Al_mishin","t":"E"},{"x":0.1578,"y":0.039,"m":"Al_mishin","t":"E"},{"x":0.161,"y":0.040,"m":"Al_mishin","t":"E"},{"x":0.1627,"y":0.036,"m":"Al_mishin","t":"E"},{"x":0.1638,"y":0.030,"m":"Al_mishin","t":"E"},{"x":0.1648,"y":0.032,"m":"Al_mishin","t":"E"},{"x":0.1665,"y":0.030,"m":"Al_mishin","t":"E"},{"x":0.1686,"y":0.028,"m":"Al_mishin","t":"E"},{"x":0.1725,"y":0.027,"m":"Al_mishin","t":"E"},{"x":0.175,"y":0.025,"m":"Al_mishin","t":"E"},{"x":0.1784,"y":0.027,"m":"Al_mishin","t":"E"},{"x":0.1811,"y":0.026,"m":"Al_mishin","t":"E"},{"x":0.1828,"y":0.030,"m":"Al_mishin","t":"E"},{"x":0.185,"y":0.026,"m":"Al_mishin","t":"E"},{"x":0.1866,"y":0.025,"m":"Al_mishin","t":"E"},{"x":0.188,"y":0.030,"m":"Al_mishin","t":"E"},{"x":0.1904,"y":0.034,"m":"Al_mishin","t":"E"},{"x":0.191,"y":0.028,"m":"Al_mishin","t":"E"},{"x":0.192,"y":0.022,"m":"Al_mishin","t":"E"},{"x":0.1942,"y":0.022,"m":"Al_mishin","t":"E"},{"x":0.196,"y":0.020,"m":"Al_mishin","t":"E"},{"x":0.198,"y":0.018,"m":"Al_mishin","t":"E"},{"x":0.200,"y":0.023,"m":"Al_mishin","t":"E"},

    {"x":0.000,"y":0,"m":"Ni_mishin","t":"E"},{"x":0.1254,"y":0,"m":"Ni_mishin","t":"E"},{"x":0.1258,"y":0.095,"m":"Ni_mishin","t":"E"},{"x":0.1263,"y":0.089,"m":"Ni_mishin","t":"E"},{"x":0.1268,"y":0.083,"m":"Ni_mishin","t":"E"},{"x":0.1279,"y":0.075,"m":"Ni_mishin","t":"E"},{"x":0.129,"y":0.073,"m":"Ni_mishin","t":"E"},{"x":0.130,"y":0.068,"m":"Ni_mishin","t":"E"},{"x":0.1315,"y":0.069,"m":"Ni_mishin","t":"E"},{"x":0.1328,"y":0.068,"m":"Ni_mishin","t":"E"},{"x":0.1344,"y":0.064,"m":"Ni_mishin","t":"E"},{"x":0.136,"y":0.064,"m":"Ni_mishin","t":"E"},{"x":0.1377,"y":0.061,"m":"Ni_mishin","t":"E"},{"x":0.1399,"y":0.057,"m":"Ni_mishin","t":"E"},{"x":0.1415,"y":0.056,"m":"Ni_mishin","t":"E"},{"x":0.1436,"y":0.053,"m":"Ni_mishin","t":"E"},{"x":0.1453,"y":0.055,"m":"Ni_mishin","t":"E"},{"x":0.1464,"y":0.056,"m":"Ni_mishin","t":"E"},{"x":0.1475,"y":0.050,"m":"Ni_mishin","t":"E"},{"x":0.1496,"y":0.045,"m":"Ni_mishin","t":"E"},{"x":0.1513,"y":0.039,"m":"Ni_mishin","t":"E"},{"x":0.1529,"y":0.045,"m":"Ni_mishin","t":"E"},{"x":0.1545,"y":0.036,"m":"Ni_mishin","t":"E"},{"x":0.1573,"y":0.034,"m":"Ni_mishin","t":"E"},{"x":0.1594,"y":0.036,"m":"Ni_mishin","t":"E"},{"x":0.161,"y":0.033,"m":"Ni_mishin","t":"E"},{"x":0.162,"y":0.027,"m":"Ni_mishin","t":"E"},{"x":0.1654,"y":0.024,"m":"Ni_mishin","t":"E"},{"x":0.1686,"y":0.025,"m":"Ni_mishin","t":"E"},{"x":0.171,"y":0.021,"m":"Ni_mishin","t":"E"},{"x":0.174,"y":0.022,"m":"Ni_mishin","t":"E"},{"x":0.177,"y":0.019,"m":"Ni_mishin","t":"E"},{"x":0.180,"y":0.020,"m":"Ni_mishin","t":"E"},{"x":0.1825,"y":0.017,"m":"Ni_mishin","t":"E"},{"x":0.185,"y":0.018,"m":"Ni_mishin","t":"E"},{"x":0.1875,"y":0.016,"m":"Ni_mishin","t":"E"},{"x":0.1904,"y":0.019,"m":"Ni_mishin","t":"E"},{"x":0.1925,"y":0.017,"m":"Ni_mishin","t":"E"},{"x":0.1947,"y":0.021,"m":"Ni_mishin","t":"E"},{"x":0.198,"y":0.017,"m":"Ni_mishin","t":"E"},{"x":0.200,"y":0.011,"m":"Ni_mishin","t":"E"},

    {"x":0.000,"y":0,"m":"Cu_mishin","t":"E"},{"x":0.1122,"y":0,"m":"Cu_mishin","t":"E"},{"x":0.1127,"y":0.058,"m":"Cu_mishin","t":"E"},{"x":0.1132,"y":0.052,"m":"Cu_mishin","t":"E"},{"x":0.115,"y":0.047,"m":"Cu_mishin","t":"E"},{"x":0.1175,"y":0.041,"m":"Cu_mishin","t":"E"},{"x":0.1195,"y":0.038,"m":"Cu_mishin","t":"E"},{"x":0.1214,"y":0.041,"m":"Cu_mishin","t":"E"},{"x":0.123,"y":0.039,"m":"Cu_mishin","t":"E"},{"x":0.1268,"y":0.040,"m":"Cu_mishin","t":"E"},{"x":0.1295,"y":0.032,"m":"Cu_mishin","t":"E"},{"x":0.1322,"y":0.030,"m":"Cu_mishin","t":"E"},{"x":0.135,"y":0.027,"m":"Cu_mishin","t":"E"},{"x":0.1377,"y":0.027,"m":"Cu_mishin","t":"E"},{"x":0.140,"y":0.024,"m":"Cu_mishin","t":"E"},{"x":0.143,"y":0.022,"m":"Cu_mishin","t":"E"},{"x":0.146,"y":0.020,"m":"Cu_mishin","t":"E"},{"x":0.149,"y":0.016,"m":"Cu_mishin","t":"E"},{"x":0.152,"y":0.013,"m":"Cu_mishin","t":"E"},{"x":0.155,"y":0.011,"m":"Cu_mishin","t":"E"},{"x":0.158,"y":0.009,"m":"Cu_mishin","t":"E"},{"x":0.161,"y":0.008,"m":"Cu_mishin","t":"E"},{"x":0.164,"y":0.010,"m":"Cu_mishin","t":"E"},{"x":0.167,"y":0.007,"m":"Cu_mishin","t":"E"},{"x":0.170,"y":0.008,"m":"Cu_mishin","t":"E"},{"x":0.173,"y":0.006,"m":"Cu_mishin","t":"E"},{"x":0.176,"y":0.007,"m":"Cu_mishin","t":"E"},{"x":0.179,"y":0.005,"m":"Cu_mishin","t":"E"},{"x":0.182,"y":0.007,"m":"Cu_mishin","t":"E"},{"x":0.185,"y":0.005,"m":"Cu_mishin","t":"E"},{"x":0.188,"y":0.006,"m":"Cu_mishin","t":"E"},{"x":0.191,"y":0.004,"m":"Cu_mishin","t":"E"},{"x":0.194,"y":0.005,"m":"Cu_mishin","t":"E"},{"x":0.197,"y":0.003,"m":"Cu_mishin","t":"E"},{"x":0.200,"y":0.002,"m":"Cu_mishin","t":"E"}
  ]},
  "encoding": {
    "x": {"field": "x", "type": "quantitative", "scale": {"domain": [-0.01, 0.21], "nice": false, "zero": false}, "axis": {"values": [0, 0.05, 0.1, 0.15, 0.2], "format": ".2f", "labelFont": "DejaVu Serif", "labelFontSize": 23, "labelPadding": 4, "title": "Strain", "titleFontSize": 24, "titlePadding": 3}},
    "y": {"field": "y", "type": "quantitative", "scale": {"domain": [-0.0138, 0.295], "nice": false, "zero": false}, "axis": {"values": [0, 0.05, 0.1, 0.15, 0.2, 0.25], "format": ".2f", "labelFont": "DejaVu Sans", "labelFontSize": 22, "labelPadding": 5, "title": "Dislocation density 10³/Å²", "titleFontSize": 24, "titlePadding": 8}}
  },
  "layer": [
    {
      "transform": [{"filter": "datum.t == 'E'"}],
      "mark": {"type": "line", "strokeWidth": 4, "strokeDash": [4, 6.6], "clip": true},
      "encoding": {
        "color": {
          "field": "m", "type": "nominal",
          "scale": {
            "domain": ["Pristine", "Frenkel pair", "EAM pristine", "Cu", "Al", "Ni", "Cu_mishin", "Al_mishin", "Ni_mishin"],
            "range": ["black", "black", "black", "#c88236", "#bea3a3", "#50d050", "#8e5019", "#929a88", "#0e6024"]
          },
          "legend": {
            "orient": "none", "legendX": 492, "legendY": 7, "title": null,
            "padding": 3, "symbolOffset": 9, "symbolSize": 576, "symbolType": "square", "clipHeight": 24,
            "labelFont": "DejaVu Serif", "labelFontSize": 17, "labelColor": "black", "labelOffset": 20, "labelLimit": 300,
            "rowPadding": 1.5, "fillColor": "white", "strokeColor": "#cccccc", "cornerRadius": 3,
            "encode": {"symbols": {"update": {
              "shape": {"signal": "indexof(['Pristine','Frenkel pair','EAM pristine'], datum.value) >= 0 ? 'M-1.45,0H1.45' : 'square'"},
              "stroke": {"signal": "indexof(['Pristine','Frenkel pair','EAM pristine'], datum.value) >= 0 ? 'black' : 'transparent'"},
              "strokeWidth": {"value": 1.5},
              "strokeDash": {"signal": "datum.value == 'Frenkel pair' ? [9, 2.5, 1.5, 2.5] : datum.value == 'EAM pristine' ? [1.5, 2.5] : [1, 0]"},
              "fill": {"scale": "color", "field": "value"},
              "fillOpacity": {"value": 1},
              "opacity": {"value": 1}
            }}}
          }
        }
      }
    },
    {
      "transform": [{"filter": "datum.t == 'F'"}],
      "mark": {"type": "line", "color": "black", "strokeWidth": 4.4, "strokeDash": [11, 3, 2.5, 3], "clip": true},
      "encoding": {"detail": {"field": "m"}}
    },
    {
      "transform": [{"filter": "datum.t == 'F'"}],
      "mark": {"type": "line", "strokeWidth": 2.6, "strokeDash": [11, 3, 2.5, 3], "clip": true},
      "encoding": {"color": {"field": "m", "type": "nominal"}}
    },
    {
      "transform": [{"filter": "datum.t == 'P'"}],
      "mark": {"type": "line", "color": "black", "strokeWidth": 4.4, "clip": true},
      "encoding": {"detail": {"field": "m"}}
    },
    {
      "transform": [{"filter": "datum.t == 'P' && datum.m != 'Ni'"}],
      "mark": {"type": "line", "strokeWidth": 2.6, "clip": true},
      "encoding": {"color": {"field": "m", "type": "nominal"}}
    },
    {
      "transform": [{"filter": "datum.t == 'P' && datum.m == 'Ni'"}],
      "mark": {"type": "line", "strokeWidth": 2.6, "clip": true},
      "encoding": {"color": {"field": "m", "type": "nominal"}}
    }
  ]
}
